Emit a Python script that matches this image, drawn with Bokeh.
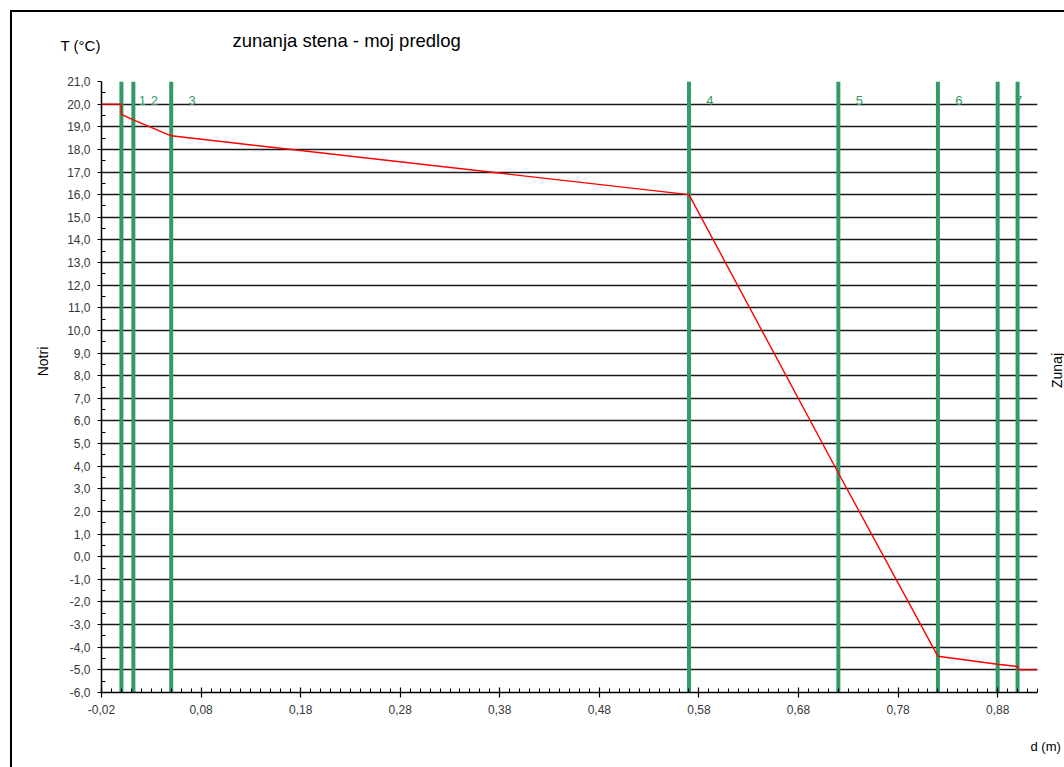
import math
from bokeh.plotting import figure
from bokeh.models import Range1d, FixedTicker, Label
from bokeh.core.properties import value
from bokeh.embed import file_html
from bokeh.resources import INLINE

# ---------------- data ----------------
title_text = "zunanja stena - moj predlog"
y_axis_title = "T (°C)"
x_axis_title = "d (m)"
inside_label = "Notri"
outside_label = "Zunaj"

# layer boundaries (m) and layer numbers
layer_x = [0.0, 0.012, 0.05, 0.57, 0.72, 0.82, 0.88, 0.90]
layer_names = ["1", "2", "3", "4", "5", "6", "7"]

# temperature profile through the wall
temp_x = [-0.02, 0.0, 0.0, 0.012, 0.05, 0.57, 0.72, 0.82, 0.88, 0.90, 0.90, 0.92]
temp_y = [20.0, 20.0, 19.55, 19.3, 18.6, 16.0, 3.7, -4.4, -4.75, -4.85, -5.0, -5.0]

x_ticks = [-0.02, 0.08, 0.18, 0.28, 0.38, 0.48, 0.58, 0.68, 0.78, 0.88]
x_tick_labels = ["-0,02", "0,08", "0,18", "0,28", "0,38", "0,48", "0,58", "0,68", "0,78", "0,88"]
y_ticks = list(range(-6, 22))
y_tick_labels = [f"{v},0" for v in y_ticks]

x_min, x_max = -0.02, 0.92
y_min, y_max = -6, 21

# ---------------- layout ----------------
W, H = 1064, 767
FL, FR, FT, FB = 101, 1037, 81, 692  # frame edges in canvas px

def dx(px):
    return x_min + (px - FL) / (FR - FL) * (x_max - x_min)

def dy(py):
    return y_max - (py - FT) / (FB - FT) * (y_max - y_min)

FONT = "Liberation Sans"
GREEN = "#339966"

p = figure(width=W, height=H, x_range=Range1d(x_min, x_max), y_range=Range1d(y_min, y_max),
           output_backend="svg", toolbar_location=None,
           min_border_left=FL, min_border_right=W - FR, min_border_top=FT, min_border_bottom=H - FB)
p.outline_line_color = None
p.background_fill_color = "white"
p.border_fill_color = None
# outer chart-area border (lines at x=10 and y=10), drawn behind the transparent canvas border
p.styles = {
    "background": "linear-gradient(#000, #000) 10px 10px / 2px 100% no-repeat, "
                  "linear-gradient(#000, #000) 10px 10px / 100% 2px no-repeat, #ffffff"
}

# grid
p.xgrid.visible = False
p.ygrid.ticker = FixedTicker(ticks=y_ticks)
p.ygrid.grid_line_color = "#1a1a1a"
p.ygrid.grid_line_width = 1.5

x_minor = [round(x_min + 0.01 * i, 2) for i in range(int(round((x_max - x_min) / 0.01)) + 1)]
y_minor = [v + 0.5 for v in y_ticks[:-1]]

xa = p.xaxis[0]
xa.ticker = FixedTicker(ticks=x_ticks, minor_ticks=x_minor)
xa.major_label_overrides = dict(zip(x_ticks, x_tick_labels))
ya = p.yaxis[0]
ya.ticker = FixedTicker(ticks=y_ticks, minor_ticks=y_minor)
ya.major_label_overrides = dict(zip(y_ticks, y_tick_labels))

for ax in (xa, ya):
    ax.axis_line_color = "black"
    ax.axis_line_width = 1.5
    ax.major_tick_line_color = "black"
    ax.minor_tick_line_color = "black"
    ax.major_tick_line_width = 1.2
    ax.minor_tick_line_width = 1
    ax.major_label_text_font = FONT
    ax.major_label_text_font_size = "12px"
    ax.major_label_text_color = "#383838"

xa.major_label_standoff = 7
ya.major_label_standoff = 7
xa.major_tick_in = 5
xa.major_tick_out = 5
xa.minor_tick_in = 4
xa.minor_tick_out = 0
ya.major_tick_in = 0
ya.major_tick_out = 4
ya.minor_tick_in = 4
ya.minor_tick_out = 0

# layer boundaries
n = len(layer_x)
p.segment(x0=layer_x, y0=[y_min] * n, x1=layer_x, y1=[y_max] * n,
          line_color=GREEN, line_width=4)
p.text(x=layer_x[:len(layer_names)], y=[y_max] * len(layer_names), text=layer_names,
       x_offset=21, y_offset=19, text_align="center", text_baseline="middle",
       text_color=GREEN, text_font=value(FONT), text_font_size="13px")

# temperature line
p.line(temp_x, temp_y, line_color="#ff0000", line_width=1.4)

# texts (placed in side panels so they are not clipped to the plot frame)
def lab(txt, px, py, size, side, align="left", angle=0.0, color="black"):
    p.add_layout(Label(x=dx(px), y=dy(py), text=txt, text_font=FONT, text_font_size=size,
                       text_align=align, text_baseline="middle", angle=angle, text_color=color),
                 side)

lab(title_text, 232, 40, "18.5px", "above")
lab(y_axis_title, 60, 45, "15px", "above")
lab(inside_label, 42, 361, "14px", "left", align="center", angle=math.pi / 2)
lab(outside_label, 1056, 370, "14px", "right", align="center", angle=math.pi / 2)
lab(x_axis_title, 1030, 746, "13px", "below")

open("out.html", "w").write(file_html(p, INLINE))
